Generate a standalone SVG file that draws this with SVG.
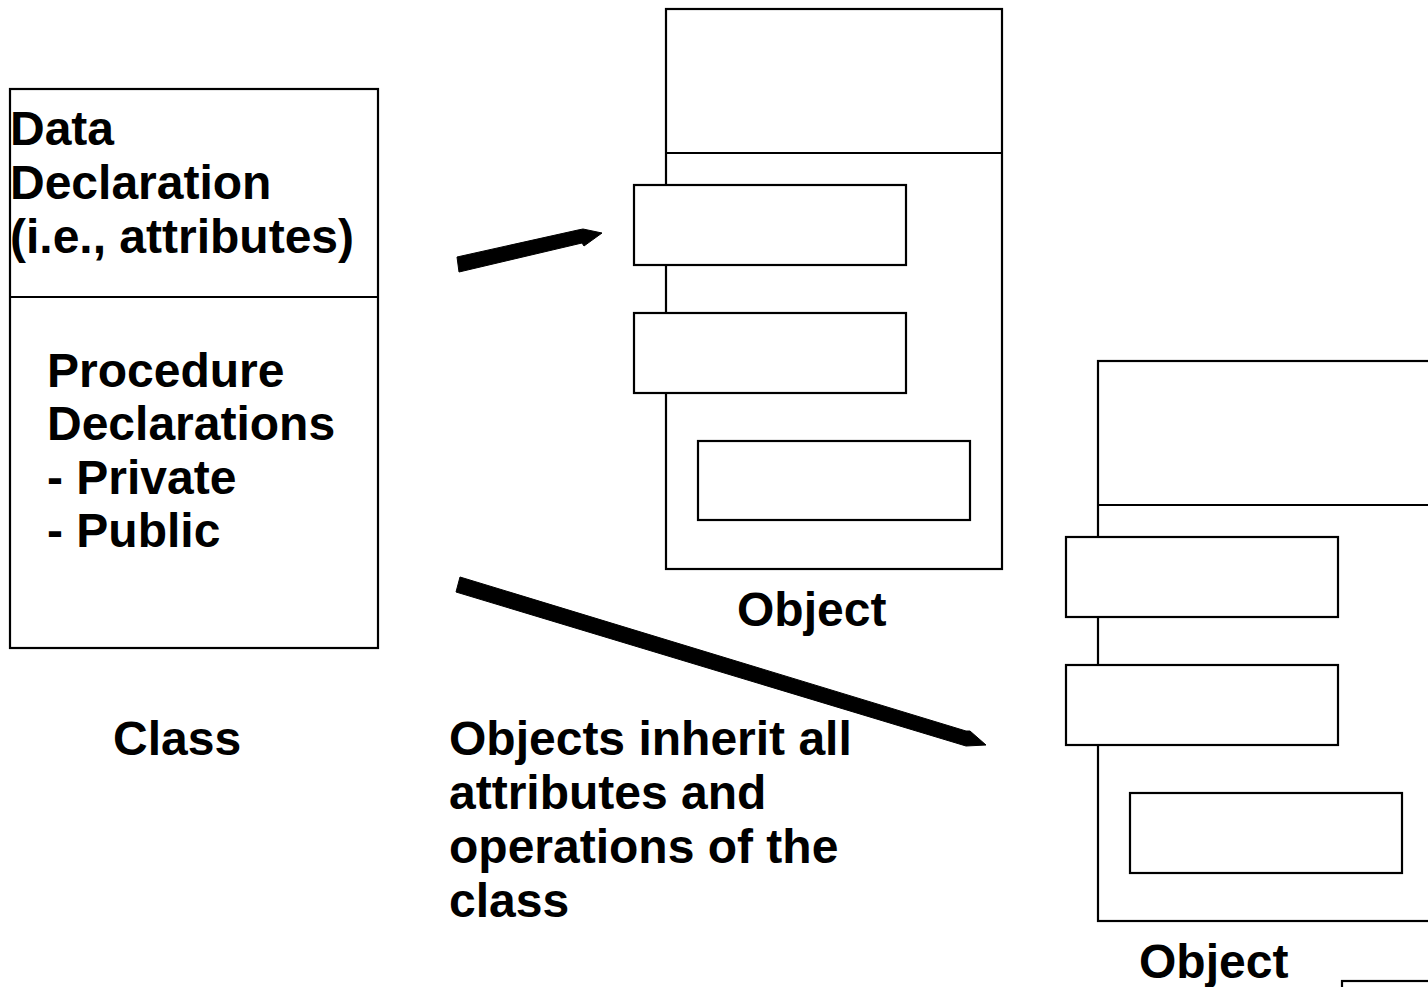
<svg xmlns="http://www.w3.org/2000/svg" width="1428" height="987" viewBox="0 0 1428 987">
<style>
.box{fill:#fff;stroke:#000;stroke-width:2.2}
.ln{stroke:#000;stroke-width:2.2;fill:none}
.t{font-family:"Liberation Sans",Arial,sans-serif;font-weight:bold;font-size:48px;fill:#000}
.arr{fill:#000;stroke:#000;stroke-width:1}
</style>
<rect width="1428" height="987" fill="#fff"/>
<g id="class">
<rect class="box" x="10" y="89" width="368" height="559"/>
<line class="ln" x1="10" y1="297" x2="378" y2="297"/>
<text class="t" x="10" y="145">Data</text>
<text class="t" x="10" y="199">Declaration</text>
<text class="t" x="10" y="253">(i.e., attributes)</text>
<text class="t" x="47" y="387">Procedure</text>
<text class="t" x="47" y="440">Declarations</text>
<text class="t" x="47" y="494">- Private</text>
<text class="t" x="47" y="547">- Public</text>
</g>
<g id="class-label"><text class="t" x="113" y="755">Class</text></g>
<g id="object1">
<rect class="box" x="666" y="9" width="336" height="560"/>
<line class="ln" x1="666" y1="153" x2="1002" y2="153"/>
<rect class="box" x="634" y="185" width="272" height="80"/>
<rect class="box" x="634" y="313" width="272" height="80"/>
<rect class="box" x="698" y="441" width="272" height="79"/>
<text class="t" x="737" y="626">Object</text>
</g>
<g id="object2">
<rect class="box" x="1098" y="361" width="340" height="560"/>
<line class="ln" x1="1098" y1="505" x2="1440" y2="505"/>
<rect class="box" x="1066" y="537" width="272" height="80"/>
<rect class="box" x="1066" y="665" width="272" height="80"/>
<rect class="box" x="1130" y="793" width="272" height="80"/>
<text class="t" x="1139" y="978">Object</text>
</g>
<g id="object3">
<rect class="box" x="1342" y="981" width="120" height="40"/>
</g>
<g id="connectors">
<polygon class="arr" points="457,257 578,230 583,229 602,233 584,246 582,243 459,272"/>
<polygon class="arr" points="460,577 966,731 970,731 986,745 966,746 456,592"/>
</g>
<g id="note">
<text class="t" x="449" y="755">Objects inherit all</text>
<text class="t" x="449" y="809">attributes and</text>
<text class="t" x="449" y="863">operations of the</text>
<text class="t" x="449" y="917">class</text>
</g>
</svg>
